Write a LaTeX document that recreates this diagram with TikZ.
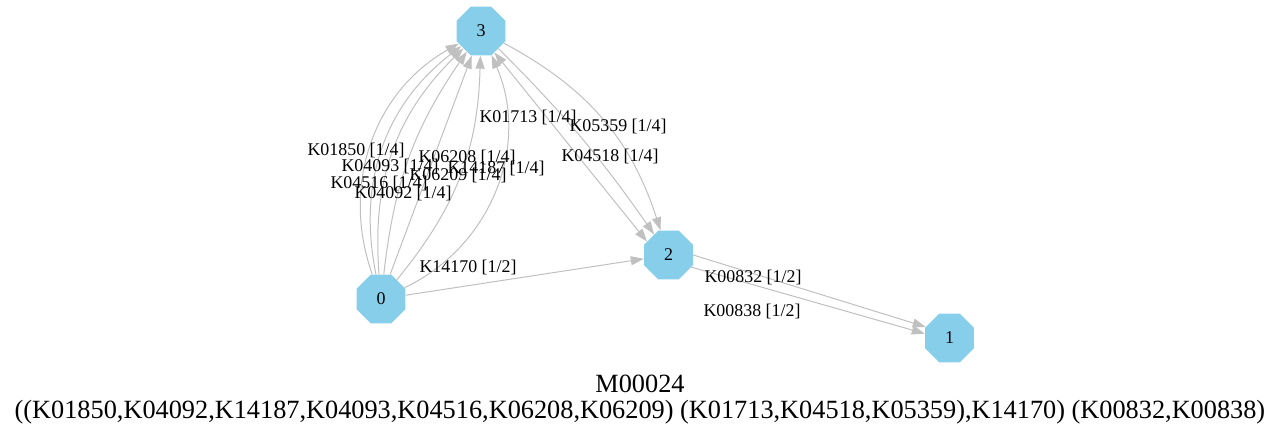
\documentclass[tikz,border=0pt]{standalone}
\usepackage{fontspec}
\setmainfont{Liberation Serif}
\usepackage{tikz}
\usetikzlibrary{calc,positioning,shapes,arrows.meta}
\definecolor{nodeblue}{HTML}{87CEEB}
\definecolor{edgegray}{HTML}{C0C0C0}
\begin{document}
\begin{tikzpicture}[x=1pt,y=-1pt,lbl/.style={inner sep=0pt, font=\fontsize{17.9}{20}\selectfont}, edg/.style={draw=edgegray, line width=1pt, -{Triangle[length=13pt,width=9pt]}}]
\tikzstyle{vtx}=[regular polygon, regular polygon sides=8, fill=nodeblue, inner sep=0pt, minimum size=53pt, font=\fontsize{17.9}{20}\selectfont]
\useasboundingbox (0,0) rectangle (1280,438);
\node[vtx] (v0) at (381,299){0};
\node[vtx] (v1) at (949.5,338){1};
\node[vtx] (v2) at (668.5,255){2};
\node[vtx] (v3) at (481,31){3};
\foreach \b in {40,32,25,14,0,-19,-44}{\draw[edg] (v0) to[bend left=\b] (v3);}
\draw[edg,{Triangle[length=13pt,width=9pt]}-{Triangle[length=13pt,width=9pt]}] (v3.-58) -- (v2.148);
\draw[edg] (v3) to[bend left=5] (v2);
\draw[edg] (v3) to[bend left=22] (v2);
\draw[edg] (v0) -- (v2);
\draw[edg] (v2.0) -- (v1.155);
\draw[edg] (v2.-28) -- (v1.170);
\foreach \n/\x/\y/\k/\f in {1/356/150/01850/4, 2/390/166/04093/4, 3/379/183/04516/4, 4/403/193/04092/4, 5/467/157/06208/4, 6/458/175/06209/4, 7/496/168/14187/4, 8/468/267/14170/2, 9/528/117/01713/4, 10/618/126/05359/4, 11/610/156/04518/4, 12/753/277/00832/2, 13/752/311/00838/2}{
\node[lbl] (l\n) at (\x,\y){K\k\ [1/\f]};}
\node[font=\fontsize{26.3}{30}\selectfont, inner sep=0pt] (ttl) at (640,384){M00024};
\node[font=\fontsize{26.3}{30}\selectfont, inner sep=0pt] (mods) at (640,412){((K01850,K04092,K14187,K04093,K04516,K06208,K06209) (K01713,K04518,K05359),K14170) (K00832,K00838)};
\end{tikzpicture}
\end{document}
